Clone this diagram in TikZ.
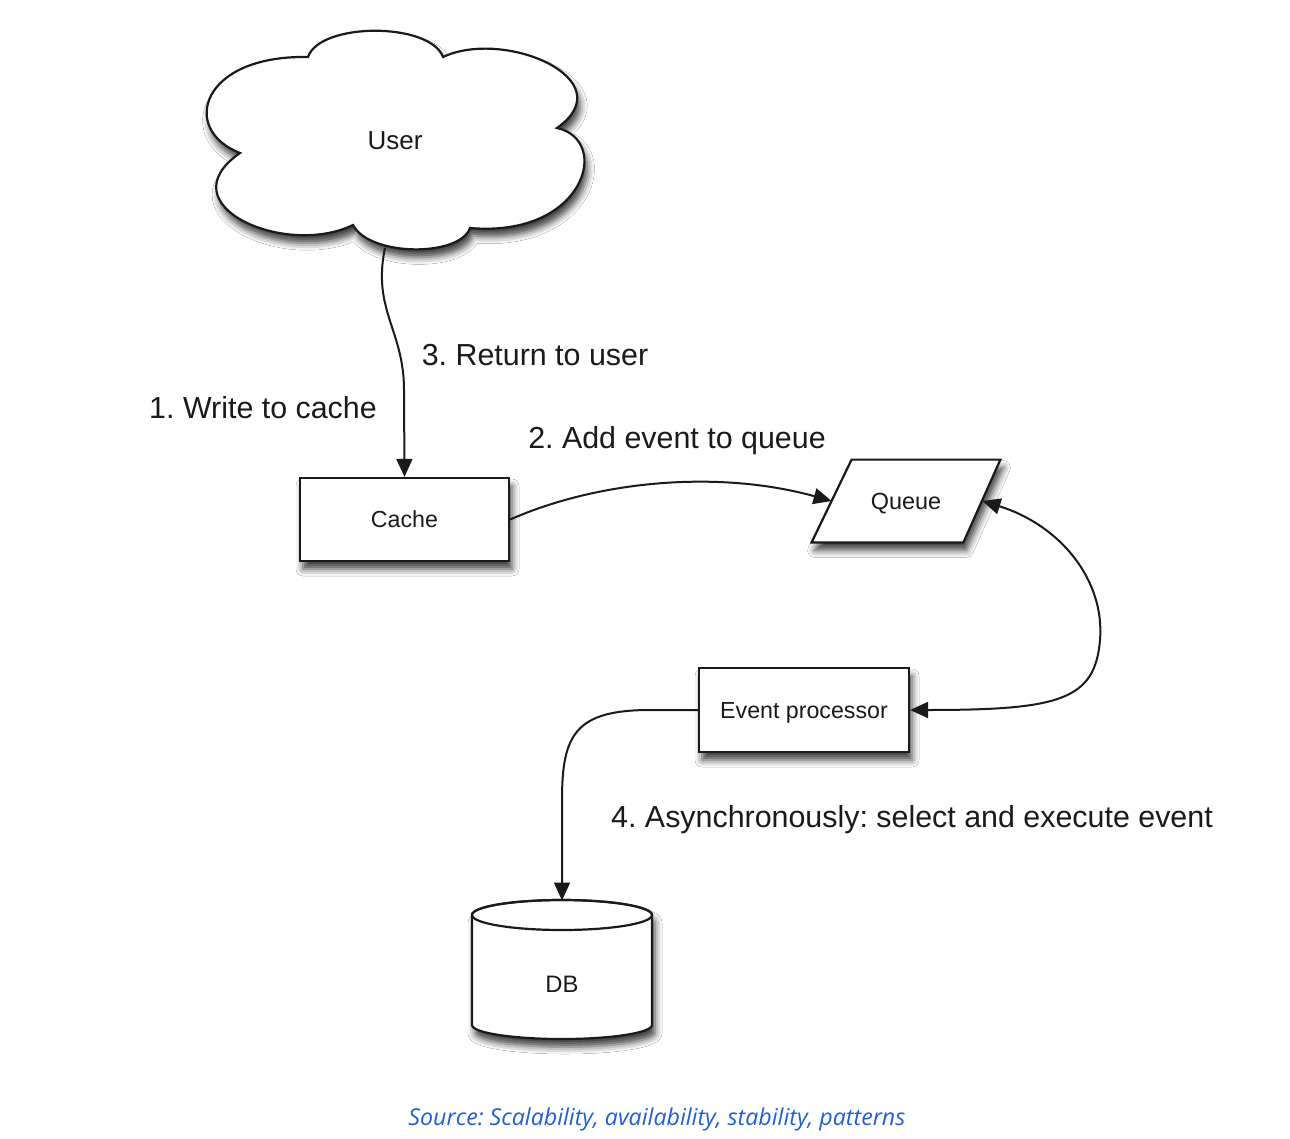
\documentclass[tikz,border=0pt]{standalone}
\usepackage{fontspec}
\usepackage{graphicx}
\setmainfont{Liberation Sans}
\newfontfamily\capfont{Open Sans}
\usetikzlibrary{shapes.geometric,arrows.meta,shadows.blur}
\definecolor{ink}{HTML}{1A1A1A}
\definecolor{capblue}{HTML}{2160D4}
\frenchspacing
\begin{document}
\begin{tikzpicture}[x=0.5pt,y=-0.5pt,
  shad/.style={blur shadow={shadow xshift=1.5pt,shadow yshift=-4pt,shadow blur radius=3.5pt,shadow opacity=75}},
  box/.style={draw=ink,line width=1.1pt,fill=white,shad,inner sep=0pt,text depth=0pt,text height=8.3pt,font=\fontsize{11.6}{14}\selectfont,text=ink},
  lbl/.style={font=\fontsize{15.2}{18}\selectfont,text=ink,inner sep=0pt,anchor=base},
  conn/.style={draw=ink,line width=1pt},
  tip/.style={-{Triangle[length=9pt,width=8pt]}},
  tips/.style={{Triangle[length=9pt,width=8pt]}-{Triangle[length=9pt,width=8pt]}}
]
\useasboundingbox (0,0) rectangle (1290,1139);
\fill[white] (0,0) rectangle (1290,1139);

% cloud
\path[draw=ink,line width=1.1pt,fill=white,shad]
 (240,153) .. controls (180,130) and (200,55) .. (308,57)
 .. controls (320,22) and (430,22) .. (443,57)
 .. controls (505,28) and (625,80) .. (557,128)
 .. controls (612,140) and (585,238) .. (470,228)
 .. controls (460,257) and (370,257) .. (353,225)
 .. controls (285,258) and (165,205) .. (240,153) -- cycle;
\node[minimum width=195pt,minimum height=107.5pt,inner sep=0pt,text depth=0pt,text height=9.3pt,font=\fontsize{13}{16}\selectfont,text=ink] (user) at (395,140) {User};

% boxes
\node[box,minimum width=104.5pt,minimum height=41.5pt] (cache) at (404.5,519.5) {Cache};
\node[inner sep=0pt,minimum width=94pt,minimum height=41pt] (queue) at (906,501) {};
\path[draw=ink,line width=1.1pt,fill=white,shad]
 (queue.south west) -- ([xshift=20pt]queue.north west) -- (queue.north east) -- ([xshift=-18.5pt]queue.south east) -- cycle;
\node[inner sep=0pt,text depth=0pt,text height=8.3pt,font=\fontsize{11.7}{14}\selectfont,text=ink] (qtext) at (queue.center) {Queue};
\node[box,minimum width=105pt,minimum height=42pt] (ep) at (804,710) {Event processor};

% DB cylinder
\path[draw=ink,line width=1.1pt,fill=white,shad]
 (472,915) -- (472,1025) arc[start angle=180,end angle=360,x radius=45pt,y radius=7pt]
 -- (652,915) arc[start angle=0,end angle=180,x radius=45pt,y radius=7.5pt] -- cycle;
\draw[ink,line width=1.1pt] (562,915) ellipse[x radius=45pt,y radius=7.5pt];
\node[inner sep=0pt,text depth=0pt,text height=8.3pt,font=\fontsize{11.9}{14}\selectfont,text=ink] (db) at (562,984) {DB};
\coordinate (dbtop) at (562,900.5);

% connectors
\draw[conn,tip] ([xshift=-5pt]user.south) .. controls (372,310) and (404,330) .. (404,390) -- (cache.north);
\draw[conn,tip] (cache.east) .. controls (600,480) and (720,470) .. ([xshift=10pt]queue.west);
\draw[conn,tips] ([xshift=-9pt]queue.east) .. controls (1060,525) and (1105,580) .. (1100,640) .. controls (1095,700) and (1060,710) .. (ep.east);
\draw[conn,tip] (ep.west) -- (650,710) .. controls (575,710) and (562,735) .. (562,800) -- (dbtop);

% labels
\node[lbl] (l1) at (263,418) {1. Write to cache};
\node[lbl] (l3) at (535,365) {3. Return to user};
\node[lbl] (l2) at (677,448) {2. Add event to queue};
\node[lbl] (l4) at (912,827) {4. Asynchronously: select and execute event};
\node[text=capblue,inner sep=0pt] (src) at (657,1119) {\resizebox{248.5pt}{!}{\capfont\itshape Source: Scalability, availability, stability, patterns}};
\end{tikzpicture}
\end{document}
